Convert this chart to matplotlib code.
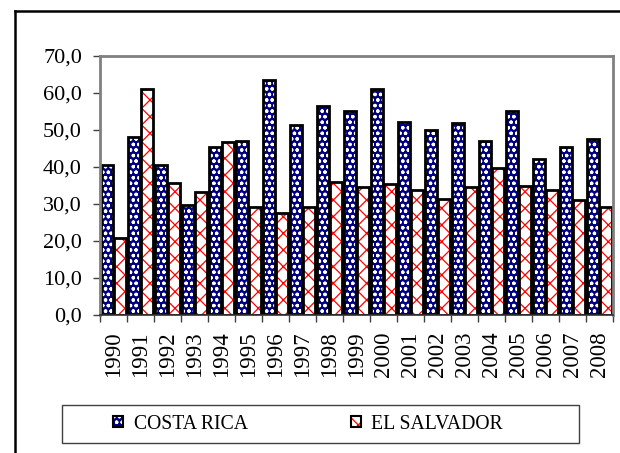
import numpy as np
import matplotlib
matplotlib.use('Agg')
import matplotlib.pyplot as plt
from matplotlib.patches import Patch, Rectangle
from matplotlib.lines import Line2D
from matplotlib.colors import to_rgba
from matplotlib.ticker import FuncFormatter, FixedLocator

plt.rcParams['font.family'] = ['Liberation Serif', 'DejaVu Serif']
plt.rcParams['hatch.linewidth'] = 0.9

years = ['1990', '1991', '1992', '1993', '1994', '1995', '1996', '1997', '1998', '1999',
         '2000', '2001', '2002', '2003', '2004', '2005', '2006', '2007', '2008']
costa_rica = [40.5, 48.2, 40.5, 29.6, 45.4, 47.1, 63.4, 51.4, 56.6, 55.2,
              61.1, 52.2, 49.9, 51.8, 47.0, 55.1, 42.2, 45.3, 47.6]
el_salvador = [20.7, 61.0, 35.6, 33.3, 46.8, 29.3, 27.6, 29.1, 35.9, 34.7,
               35.3, 33.7, 31.4, 34.7, 39.8, 35.0, 33.9, 31.1, 29.1]
series_names = ['COSTA RICA', 'EL SALVADOR']

navy = '#000080'
red = '#ff0000'

fig = plt.figure(figsize=(6.2, 4.53), dpi=100)
ax = fig.add_axes([0.1613, 0.3046, 0.8274, 0.5718])

x = np.arange(len(years))
w = 0.455
off = 0.235

# fill + pattern first (hatch colour follows edgecolor), then black outline on top
ax.bar(x - off, costa_rica, w, color=navy, edgecolor='white', hatch='ooo', linewidth=0)
ax.bar(x + off, el_salvador, w, color='white', edgecolor=red, hatch='xx', linewidth=0)
ax.bar(x - off, costa_rica, w, fill=False, edgecolor='black', linewidth=2)
ax.bar(x + off, el_salvador, w, fill=False, edgecolor='black', linewidth=2)

ax.set_xlim(-0.5, len(years) - 0.5)
ax.set_ylim(0, 70)
ax.set_yticks(np.arange(0, 71, 10))
ax.yaxis.set_major_formatter(FuncFormatter(lambda v, p: f'{v:.1f}'.replace('.', ',')))

# year labels centred on categories, tick marks between categories
ax.set_xticks(x)
ax.set_xticklabels(years, rotation=90, fontsize=16.5)
ax.tick_params(axis='x', which='major', length=0, pad=12)
ax.xaxis.set_minor_locator(FixedLocator(np.arange(-0.5, len(years), 1.0)))
ax.tick_params(axis='x', which='minor', length=5, width=1, color='#404040', direction='out')
ax.tick_params(axis='y', length=5, width=1, color='#404040', direction='out', pad=8, labelsize=16)

for side in ['top', 'right', 'left']:
    ax.spines[side].set_color('#808080')
    ax.spines[side].set_linewidth(2)
ax.spines['bottom'].set_color('#303030')
ax.spines['bottom'].set_linewidth(1.2)

# legend frame drawn by hand, entries placed inside
fig.add_artist(Rectangle((0.1, 0.022), 0.834, 0.084, transform=fig.transFigure,
                         fill=False, edgecolor='#404040', linewidth=1))
h_cr = Patch(facecolor=navy, edgecolor='black', hatch='ooo', linewidth=1.5)
h_cr._hatch_color = to_rgba('white')
h_es = Patch(facecolor='white', edgecolor='black', hatch='xx', linewidth=1.5)
h_es._hatch_color = to_rgba(red)
fig.legend([h_cr, h_es], series_names, loc='center left', bbox_to_anchor=(0.183, 0.064),
           frameon=False, ncol=2, fontsize=14.2, handlelength=0.5, handleheight=0.5,
           handletextpad=0.55, columnspacing=5.2, borderpad=0, borderaxespad=0)

# outer chart border (top and left visible)
fig.add_artist(Line2D([0.0242, 1.0], [0.9757, 0.9757], transform=fig.transFigure,
                      color='black', linewidth=1.8))
fig.add_artist(Line2D([0.0242, 0.0242], [0.0, 0.9757], transform=fig.transFigure,
                      color='black', linewidth=1.8))

fig.savefig('out.png', dpi=100)
